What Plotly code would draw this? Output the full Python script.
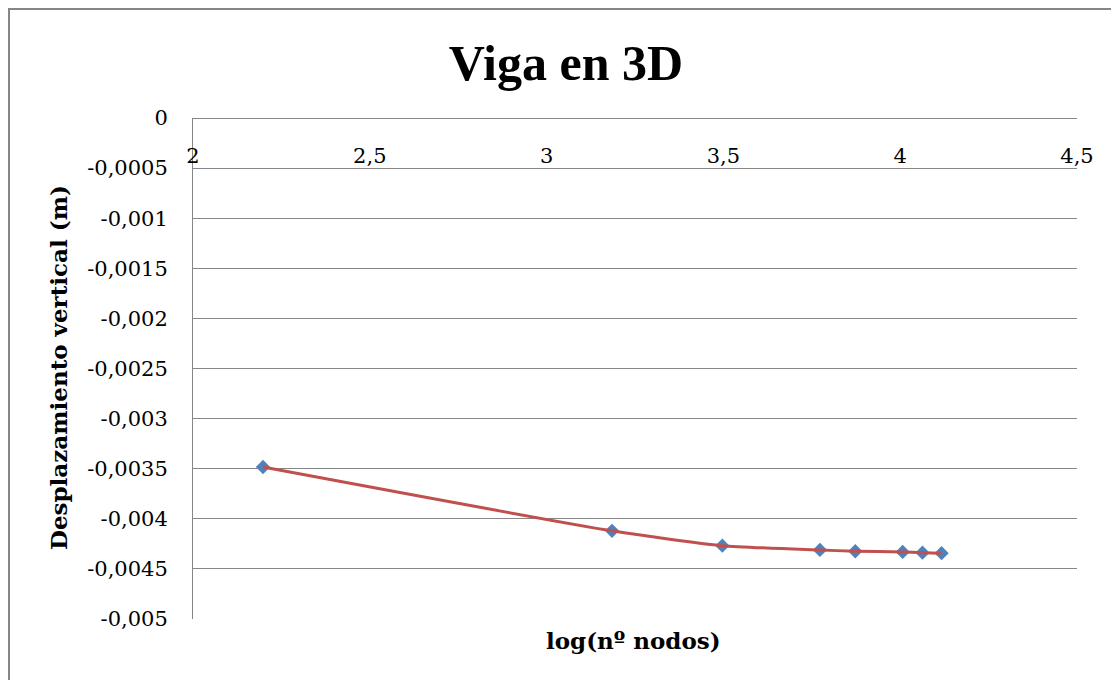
import plotly.graph_objects as go

log_nodos = [2.198, 3.185, 3.497, 3.773, 3.873, 4.007, 4.063, 4.117]
desplazamiento = [-0.003483, -0.004120, -0.004268, -0.004311, -0.004324, -0.004331, -0.004338, -0.004343]

y_ticks = [0, -0.0005, -0.001, -0.0015, -0.002, -0.0025, -0.003, -0.0035, -0.004, -0.0045, -0.005]
y_labels = ["0", "-0,0005", "-0,001", "-0,0015", "-0,002", "-0,0025", "-0,003", "-0,0035", "-0,004", "-0,0045", "-0,005"]
x_ticks = [2, 2.5, 3, 3.5, 4, 4.5]
x_labels = ["2", "2,5", "3", "3,5", "4", "4,5"]

# page body has an 8px offset; figure coordinates below compensate for it
W, H = 1119, 680
L, R, T, B = 185, 50, 110, 69
pw, ph = W - L - R, H - T - B

tick_font = dict(family="DejaVu Serif", size=21, color="black")
title_font_fam = "DejaVu Serif"

fig = go.Figure()
fig.add_trace(go.Scatter(
    x=log_nodos, y=desplazamiento, mode="markers",
    marker=dict(symbol="diamond", size=11, color="#4F81BD"),
    showlegend=False, hoverinfo="skip"))
fig.add_trace(go.Scatter(
    x=log_nodos, y=desplazamiento, mode="lines",
    line=dict(color="#C0504D", width=3, shape="spline", smoothing=0.6),
    showlegend=False))

fig.update_layout(
    width=W, height=H,
    margin=dict(l=L, r=R, t=T, b=B, pad=0),
    paper_bgcolor="white", plot_bgcolor="white",
    separators=",.",
    title=dict(text="<b>Viga en 3D</b>", x=558 / W, xanchor="center",
               y=1 - 54 / H, yanchor="middle",
               font=dict(family="Liberation Serif", size=50, color="black")),
    xaxis=dict(range=[2, 4.5], side="bottom", anchor="free", position=1,
               tickvals=x_ticks, ticktext=x_labels,
               showgrid=False, zeroline=False,
               showline=True, linecolor="#868686", linewidth=1,
               ticks="", ticklabelstandoff=19, tickfont=tick_font,
               title=None),
    yaxis=dict(range=[-0.005, 0], tickvals=y_ticks, ticktext=y_labels,
               showgrid=True, gridcolor="#868686", gridwidth=1,
               zeroline=False, showline=True, linecolor="#868686", linewidth=1,
               ticks="", ticklabelstandoff=20, tickfont=tick_font),
    shapes=[dict(type="line", xref="paper", yref="paper",
                 x0=(0 - L) / pw, x1=(W + 5 - L) / pw,
                 y0=1 + (T - 1) / ph, y1=1 + (T - 1) / ph,
                 line=dict(color="#868686", width=2)),
            dict(type="line", xref="paper", yref="paper",
                 x0=(1 - L) / pw, x1=(1 - L) / pw,
                 y0=1 + (T - 1) / ph, y1=-(B + 10) / ph,
                 line=dict(color="#868686", width=2))],
    annotations=[
        dict(text="<b>log(nº nodos)</b>", xref="paper", yref="paper",
             x=(625 - L) / pw, y=-(632 - (T + ph)) / ph,
             xanchor="center", yanchor="middle", showarrow=False,
             font=dict(family=title_font_fam, size=23, color="black")),
        dict(text="<b>Desplazamiento vertical (m)</b>", xref="paper", yref="paper",
             x=(50 - L) / pw, y=1 - (360 - T) / ph, textangle=-90,
             xanchor="center", yanchor="middle", showarrow=False,
             font=dict(family=title_font_fam, size=23, color="black")),
    ],
)

fig.write_html("out.html")
